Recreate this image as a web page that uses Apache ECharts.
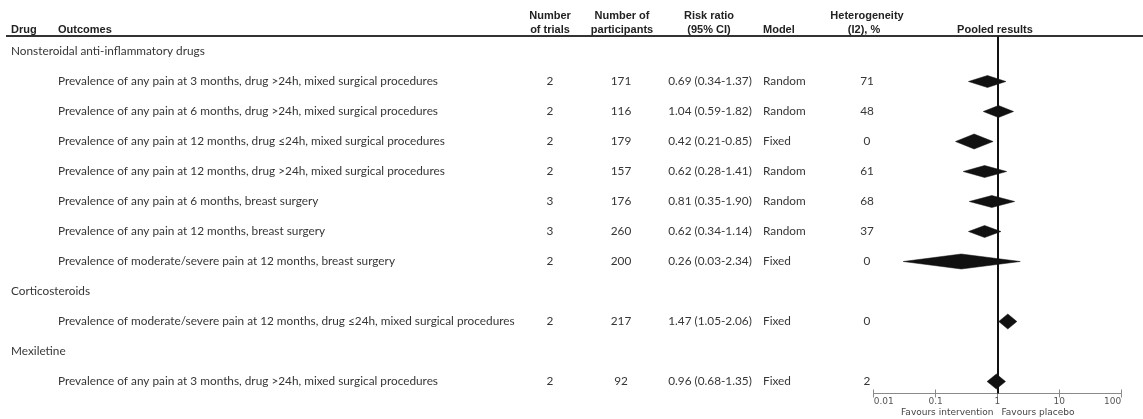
<!DOCTYPE html>
<html><head><meta charset="utf-8">
<script src="https://cdn.jsdelivr.net/npm/echarts@6/dist/echarts.min.js"></script>
<style>html,body{margin:0;padding:0;background:#fff}#c{width:1143px;height:419px}</style>
</head><body><div id="c"></div><script>
const drugs = ['Nonsteroidal anti-inflammatory drugs', 'Corticosteroids', 'Mexiletine'];
const drugOfOutcome = [0, 0, 0, 0, 0, 0, 0, 1, 2];
const outcomes = [
  'Prevalence of any pain at 3 months, drug >24h, mixed surgical procedures',
  'Prevalence of any pain at 6 months, drug >24h, mixed surgical procedures',
  'Prevalence of any pain at 12 months, drug \u226424h, mixed surgical procedures',
  'Prevalence of any pain at 12 months, drug >24h, mixed surgical procedures',
  'Prevalence of any pain at 6 months, breast surgery',
  'Prevalence of any pain at 12 months, breast surgery',
  'Prevalence of moderate/severe pain at 12 months, breast surgery',
  'Prevalence of moderate/severe pain at 12 months, drug \u226424h, mixed surgical procedures',
  'Prevalence of any pain at 3 months, drug >24h, mixed surgical procedures'
];
const trials = [2, 2, 2, 2, 3, 3, 2, 2, 2];
const participants = [171, 116, 179, 157, 176, 260, 200, 217, 92];
const riskRatio = [0.69, 1.04, 0.42, 0.62, 0.81, 0.62, 0.26, 1.47, 0.96];
const ciLower = [0.34, 0.59, 0.21, 0.28, 0.35, 0.34, 0.03, 1.05, 0.68];
const ciUpper = [1.37, 1.82, 0.85, 1.41, 1.90, 1.14, 2.34, 2.06, 1.35];
const models = ['Random', 'Random', 'Fixed', 'Random', 'Random', 'Random', 'Fixed', 'Fixed', 'Fixed'];
const heterogeneity = [71, 48, 0, 61, 68, 37, 0, 0, 2];
const xTickLabels = ['0.01', '0.1', '1', '10', '100'];

// build row layout (group header rows + outcome rows)
const rows = [];
let prevDrug = -1;
outcomes.forEach((o, k) => {
  if (drugOfOutcome[k] !== prevDrug) { rows.push({ type: 'group', d: drugOfOutcome[k] }); prevDrug = drugOfOutcome[k]; }
  rows.push({ type: 'outcome', k: k });
});
const rowOfOutcome = [];
rows.forEach((r, i) => { if (r.type === 'outcome') rowOfOutcome[r.k] = i; });

const fmt = v => v.toFixed(2);
const rrText = riskRatio.map((v, k) => fmt(v) + ' (' + fmt(ciLower[k]) + '-' + fmt(ciUpper[k]) + ')');

const BODY_FONT = '11.8px Lato, "Liberation Sans", sans-serif';
const BODY_COLOR = '#363636';
const HEAD_FONT = 'bold 11px "Liberation Sans", Arial, sans-serif';
const HEAD_COLOR = '#222';

const chart = echarts.init(document.getElementById('c'), null, { renderer: 'canvas' });

function txt(x, y, text, align, font, color) {
  return { type: 'text', x: x, y: y, style: { text: text, align: align || 'left', verticalAlign: 'middle', font: font || BODY_FONT, fill: color || BODY_COLOR } };
}

const tableData = rows.map((r, i) => [1, i]);
const diamondData = riskRatio.map((v, k) => [v, rowOfOutcome[k], ciLower[k], ciUpper[k]]);
const gridBox = { left: 873.7, right: 21.8, top: 36.5, bottom: 25.5, containLabel: false };

chart.setOption({
  animation: false,
  grid: [Object.assign({}, gridBox), Object.assign({}, gridBox)],
  xAxis: [{
    type: 'log', logBase: 10, min: 0.01, max: 100, gridIndex: 0, position: 'bottom',
    axisLine: { show: true, onZero: false, lineStyle: { color: '#8a8a8a', width: 1 } },
    axisTick: { show: true, length: 4, lineStyle: { color: '#8a8a8a' } },
    axisLabel: { show: true, margin: 4, fontSize: 9, fontFamily: '"DejaVu Sans", sans-serif', color: '#555',
      alignMinLabel: 'left', alignMaxLabel: 'right',
      formatter: function (v) { const idx = Math.round(Math.log10(v)) + 2; return xTickLabels[idx] || ''; } },
    splitLine: { show: false }
  }, {
    type: 'log', logBase: 10, min: 0.01, max: 100, gridIndex: 1, position: 'bottom',
    axisLine: { show: false, onZero: false },
    axisTick: { show: true, inside: true, length: 4, lineStyle: { color: '#8a8a8a' } },
    axisLabel: { show: false }, splitLine: { show: false }
  }],
  yAxis: [
    { type: 'value', gridIndex: 0, inverse: true, min: -0.5, max: 11.4, show: false, splitLine: { show: false } },
    { type: 'value', gridIndex: 1, inverse: true, min: -0.5, max: 11.4, show: false, splitLine: { show: false } }
  ],
  series: [{
    type: 'custom', name: 'table', silent: true, clip: false,
    encode: { x: 0, y: 1 },
    data: tableData,
    renderItem: function (params, api) {
      const r = rows[params.dataIndex];
      const y = api.coord([1, api.value(1)])[1];
      if (r.type === 'group') return txt(11, y, drugs[r.d]);
      const k = r.k;
      return { type: 'group', children: [
        txt(58, y, outcomes[k]),
        txt(550, y, String(trials[k]), 'center'),
        txt(621, y, String(participants[k]), 'center'),
        txt(710, y, rrText[k], 'center'),
        txt(763, y, models[k]),
        txt(867, y, String(heterogeneity[k]), 'center')
      ] };
    }
  }, {
    type: 'custom', name: 'pooled', silent: true, clip: false,
    encode: { x: [0, 2, 3], y: 1 },
    data: diamondData,
    renderItem: function (params, api) {
      const k = params.dataIndex;
      const yv = api.value(1);
      const est = api.coord([api.value(0), yv]);
      const lo = api.coord([api.value(2), yv]);
      const hi = api.coord([api.value(3), yv]);
      const h = models[k] === 'Fixed' ? 7.5 : 6;
      return { type: 'polygon', shape: { points: [[lo[0], est[1]], [est[0], est[1] - h], [hi[0], est[1]], [est[0], est[1] + h]] },
        style: { fill: '#111', stroke: '#111', lineWidth: 0.5 } };
    },
    markLine: { silent: true, symbol: 'none', label: { show: false },
      lineStyle: { color: '#111', width: 2, type: 'solid' }, data: [{ xAxis: 1 }] }
  }]
});

const x1 = chart.convertToPixel({ xAxisIndex: 0 }, 1);
const headers = [
  [11, 30, 'Drug', 'left'], [58, 30, 'Outcomes', 'left'],
  [550, 16, 'Number', 'center'], [550, 30, 'of trials', 'center'],
  [622, 16, 'Number of', 'center'], [622, 30, 'participants', 'center'],
  [709, 16, 'Risk ratio', 'center'], [709, 30, '(95% CI)', 'center'],
  [763, 30, 'Model', 'left'],
  [867, 16, 'Heterogeneity', 'center'], [864, 30, '(I2), %', 'center'],
  [995, 30, 'Pooled results', 'center']
];
const graphics = headers.map(h => ({ type: 'text', x: h[0], y: h[1], silent: true,
  style: { text: h[2], align: h[3], verticalAlign: 'middle', font: HEAD_FONT, fill: HEAD_COLOR } }));
graphics.push({ type: 'line', silent: true, shape: { x1: 6, y1: 36, x2: 1143, y2: 36 }, style: { stroke: '#333', lineWidth: 2 } });
graphics.push({ type: 'text', x: x1 - 4, y: 412.5, silent: true, style: { text: 'Favours intervention', align: 'right', verticalAlign: 'middle', font: '9px "DejaVu Sans", sans-serif', fill: '#444' } });
graphics.push({ type: 'text', x: x1 + 4, y: 412.5, silent: true, style: { text: 'Favours placebo', align: 'left', verticalAlign: 'middle', font: '9px "DejaVu Sans", sans-serif', fill: '#444' } });
chart.setOption({ graphic: graphics });
</script></body></html>
